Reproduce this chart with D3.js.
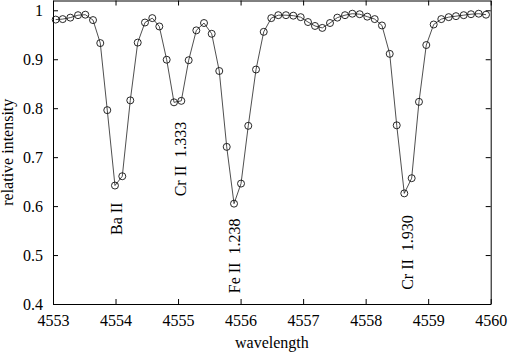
<!DOCTYPE html>
<html>
<head>
<meta charset="utf-8">
<script src="https://cdn.jsdelivr.net/npm/d3@7"></script>
<style>
  body { margin: 0; background: #fff; }
  svg { display: block; }
  text { font-family: "Liberation Serif", "Times New Roman", serif; font-size: 16px; fill: #000; }
</style>
</head>
<body>
<script>
// spectrum samples
const wavelength = [
  4553.043, 4553.155, 4553.277, 4553.400, 4553.517, 4553.640, 4553.756, 4553.868, 4553.991, 4554.108,
  4554.236, 4554.355, 4554.471, 4554.588, 4554.700, 4554.818, 4554.935, 4555.052, 4555.170, 4555.292,
  4555.415, 4555.538, 4555.659, 4555.778, 4555.895, 4556.007, 4556.123, 4556.247, 4556.370, 4556.491,
  4556.603, 4556.726, 4556.843, 4556.961, 4557.078, 4557.190, 4557.307, 4557.430, 4557.547, 4557.670,
  4557.787, 4557.905, 4558.026, 4558.145, 4558.261, 4558.385, 4558.497, 4558.618, 4558.736, 4558.853,
  4558.970, 4559.088, 4559.210, 4559.328, 4559.445, 4559.568, 4559.685, 4559.808, 4559.925
];
const intensity = [
  0.981, 0.982, 0.985, 0.990, 0.991, 0.980, 0.933, 0.796, 0.642, 0.661,
  0.816, 0.934, 0.975, 0.984, 0.967, 0.899, 0.812, 0.815, 0.898, 0.959,
  0.974, 0.952, 0.876, 0.721, 0.605, 0.646, 0.764, 0.879, 0.956, 0.984,
  0.990, 0.990, 0.989, 0.986, 0.976, 0.968, 0.964, 0.974, 0.985, 0.990,
  0.993, 0.992, 0.987, 0.982, 0.969, 0.911, 0.765, 0.626, 0.657, 0.813,
  0.929, 0.971, 0.982, 0.986, 0.988, 0.990, 0.992, 0.993, 0.991
];

// line identifications (rotated labels)
const lineNames = ["Ba II", "Cr II  1.333", "Fe II  1.238", "Cr II  1.930"];
const lineWave = [4554.10, 4555.13, 4555.99, 4558.76];
const lineLevel = [0.541, 0.620, 0.422, 0.429];

const xTicks = [4553, 4554, 4555, 4556, 4557, 4558, 4559, 4560];
const yTicks = [0.4, 0.5, 0.6, 0.7, 0.8, 0.9, 1];

const width = 509, height = 353;
const margin = {top: 0.5, right: 18.3, bottom: 49, left: 53};
const w = width - margin.left - margin.right;
const h = height - margin.top - margin.bottom;

const svg = d3.select("body").append("svg")
  .attr("width", width)
  .attr("height", height);

const g = svg.append("g")
  .attr("transform", `translate(${margin.left},${margin.top})`);

const x = d3.scaleLinear().domain([4553, 4560]).range([0, w]);
const y = d3.scaleLinear().domain([0.4, 1.02]).range([h, 0]);

// axes, ticks pointing inward on all four sides
const fmtY = d => d === 1 ? "1" : d3.format(".1f")(d);

g.append("g")
  .attr("transform", `translate(0,${h})`)
  .call(d3.axisBottom(x).tickValues(xTicks).tickFormat(d3.format("d"))
    .tickSizeInner(-5).tickSizeOuter(0).tickPadding(11));
g.append("g")
  .call(d3.axisTop(x).tickValues(xTicks).tickFormat("")
    .tickSizeInner(-5).tickSizeOuter(0));
g.append("g")
  .call(d3.axisLeft(y).tickValues(yTicks).tickFormat(fmtY)
    .tickSizeInner(-5).tickSizeOuter(0).tickPadding(10));
g.append("g")
  .attr("transform", `translate(${w},0)`)
  .call(d3.axisRight(y).tickValues(yTicks).tickFormat("")
    .tickSizeInner(-5).tickSizeOuter(0));

g.selectAll(".domain").attr("stroke", "#000");
g.selectAll(".tick line").attr("stroke", "#000");
g.selectAll(".tick text")
  .style("font-family", "'Liberation Serif', 'Times New Roman', serif")
  .style("font-size", "16px")
  .attr("fill", "#000");

// spectrum
const pts = wavelength.map((wl, i) => [wl, intensity[i]]);

g.append("path")
  .datum(pts)
  .attr("fill", "none")
  .attr("stroke", "#222")
  .attr("stroke-width", 0.8)
  .attr("d", d3.line().x(d => x(d[0])).y(d => y(d[1])));

g.selectAll(".pt")
  .data(pts)
  .enter()
  .append("circle")
  .attr("class", "pt")
  .attr("cx", d => x(d[0]))
  .attr("cy", d => y(d[1]))
  .attr("r", 3.5)
  .attr("fill", "none")
  .attr("stroke", "#111")
  .attr("stroke-width", 0.9);

// line labels
g.selectAll(".lbl")
  .data(lineNames)
  .enter()
  .append("text")
  .attr("class", "lbl")
  .attr("transform", (d, i) => `translate(${x(lineWave[i])},${y(lineLevel[i])}) rotate(-90)`)
  .style("white-space", "pre")
  .text(d => d);

// axis titles
svg.append("text")
  .attr("x", margin.left + w / 2)
  .attr("y", 348)
  .attr("text-anchor", "middle")
  .text("wavelength");

svg.append("text")
  .attr("transform", `translate(13,${margin.top + h / 2}) rotate(-90)`)
  .attr("text-anchor", "middle")
  .text("relative intensity");
</script>
</body>
</html>
